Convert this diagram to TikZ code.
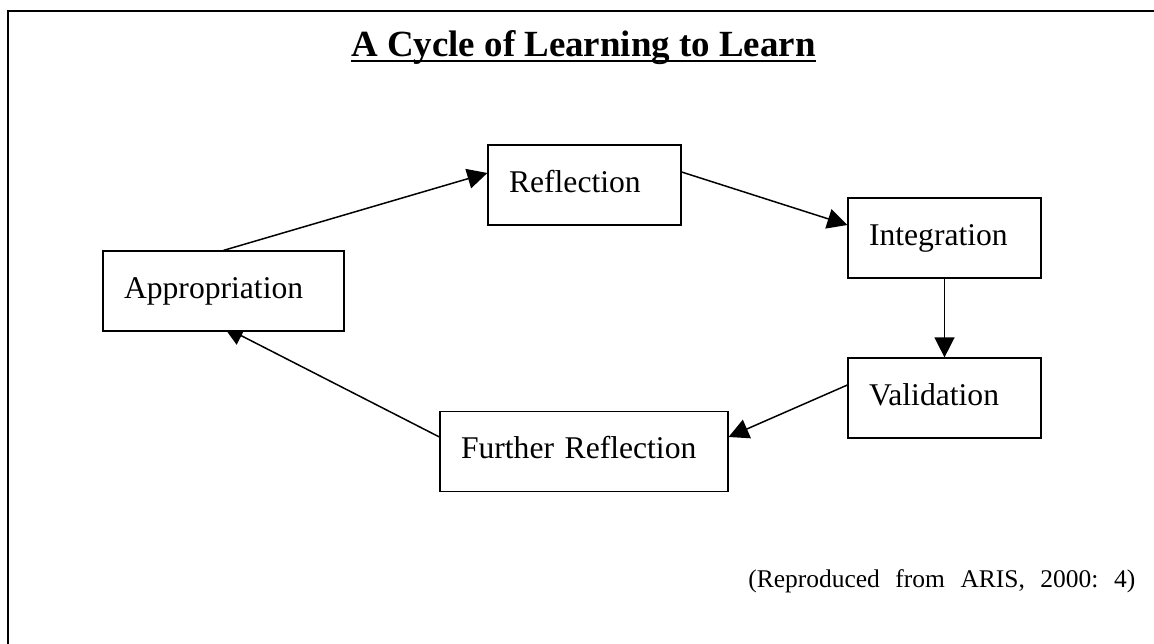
\documentclass[tikz,border=0pt]{standalone}
\usepackage{fontspec}
\setmainfont{Liberation Serif}
\usepackage{tikz}
\usetikzlibrary{arrows.meta,backgrounds}
\tikzset{
  stage/.style={draw, fill=white, line width=0.7pt, align=left,
    inner xsep=0.42cm, inner ysep=0pt, minimum height=1.6cm,
    text height=1.1em, text depth=0.3em, font=\fontsize{18}{21}\selectfont},
  link/.style={->, line width=0.85pt},
}

\begin{document}
\begin{tikzpicture}[x=0.02cm, y=-0.02cm, >={Triangle[length=0.4cm,width=0.4cm]}]
    \useasboundingbox (0,0) rectangle (1154,644);
    % open frame, cut at the right and bottom
    \draw[line width=1.1pt] (8,660) -- (8,11) -- (1170,11);

    \node[anchor=base, inner sep=0pt, font=\fontsize{21}{25}\selectfont\bfseries]
      (title) at (583.5,57) {A Cycle of Learning to Learn};
    \draw[line width=0.05cm] ([yshift=-0.08cm]title.base west) -- ([yshift=-0.08cm]title.base east);

    \node[stage, text width=3.98cm] (appr)  at (223.5,291) {Appropriation};
    \node[stage, text width=3.02cm] (refl)  at (584.5,185) {Reflection};
    \node[stage, text width=3.02cm] (integ) at (944.5,238) {Integration};
    \node[stage, text width=3.02cm] (valid) at (944.5,398) {Validation};
    \node[stage, text width=4.92cm] (furth) at (584,451.5) {Further Reflection};

    \begin{scope}[on background layer]
      \draw[link] (appr.north) -- ([yshift=0.24cm]refl.west);
      \draw[link] ([yshift=0.26cm]refl.east) -- ([yshift=0.26cm]integ.west);
      \draw[link] (integ.south) -- (valid.north);
      \draw[link] ([yshift=0.26cm]valid.west) -- ([yshift=0.29cm]furth.east);
      \draw[link] ([yshift=0.29cm]furth.west) -- ([yshift=0.1cm]appr.south);
    \end{scope}

    \node[anchor=base west, inner sep=0pt, font=\fontsize{14.5}{17}\selectfont]
      (credit) at (748,588) {\frenchspacing\makebox[7.74cm][s]{(Reproduced from ARIS, 2000: 4)}};
\end{tikzpicture}
\end{document}
